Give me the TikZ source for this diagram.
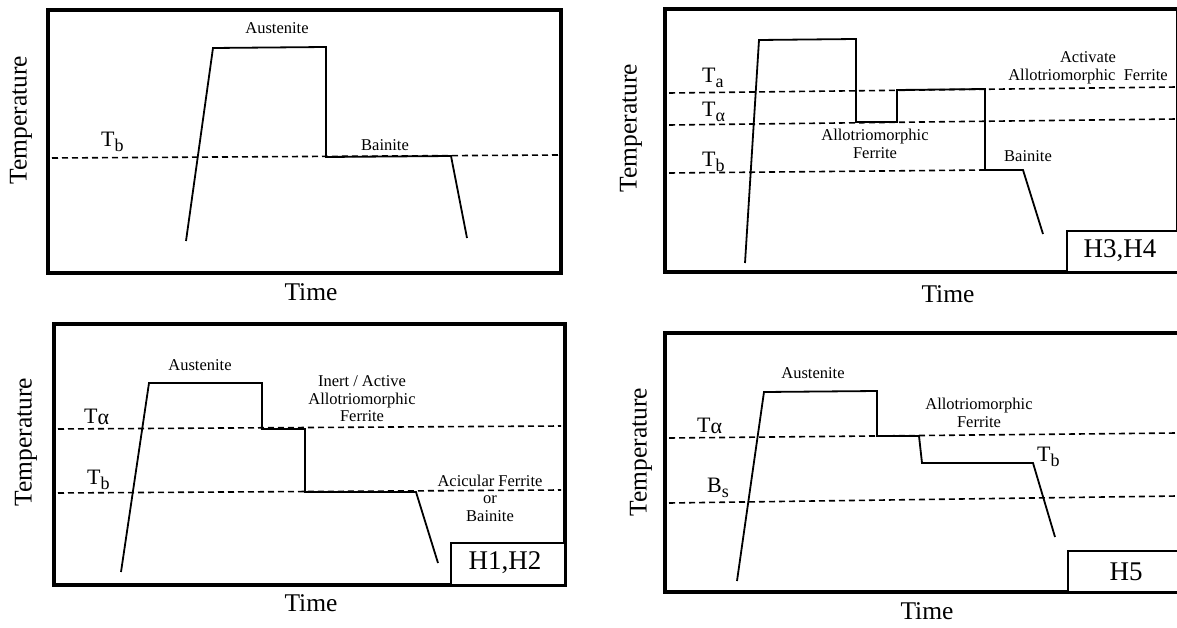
\documentclass[tikz,border=0pt]{standalone}
\usepackage{fontspec}
\setmainfont{Liberation Serif}
% temperature level label: letter with a lowered subscript
\newcommand\lvl[2]{#1\raisebox{-5pt}{\fontsize{18}{18}\selectfont #2}}
% level label whose second letter sits almost on the baseline
\newcommand\lvlin[2]{#1\raisebox{-1.5pt}{#2}}
\tikzset{
  panel/.style={line width=4.5pt},
  profile/.style={line width=1.8pt, line join=miter},
  level/.style={line width=1.6pt, dash pattern=on 6pt off 4pt},
  tag/.style={line width=2pt, fill=white},
  phase/.style={font=\fontsize{16.5}{17.5}\selectfont, align=center, inner sep=0pt},
  axislab/.style={font=\fontsize{25.5}{27}\selectfont, inner sep=0pt},
  tlab/.style={font=\fontsize{22}{22}\selectfont, inner sep=0pt, anchor=base west},
  idlab/.style={font=\fontsize{27}{27}\selectfont, inner sep=0pt}
}
\begin{document}
\begin{tikzpicture}[x=1pt,y=-1pt]
\useasboundingbox (0,0) rectangle (1177,628);
\clip (0,0) rectangle (1177,628);

% ---------------- top left: isothermal bainite ----------------
\draw[panel] (48,10) rectangle (561,273);
\draw[level] (52,158) -- (558,155);
\draw[profile] (186,241) -- (213,48) -- (326,47) -- (326,157) -- (451,156) -- (467,238);
\node[axislab, rotate=90] (p1temp) at (21,120) {Temperature};
\node[axislab] (p1time) at (311,292) {Time};
\node[phase] (p1aus) at (277,28) {Austenite};
\node[phase] (p1bai) at (385,145) {Bainite};
\node[tlab] (p1tb) at (101,147) {\lvl{T}{b}};

% ---------------- top right: H3, H4 ----------------
\draw[panel] (665,9) rectangle (1178,272);
\draw[level] (669,93) -- (1177,87);
\draw[level] (669,125) -- (1177,119);
\draw[level] (669,173) -- (985,170);
\draw[profile] (745,263) -- (759,40) -- (856,39) -- (856,122) -- (897,122)
  -- (897,90) -- (985,89) -- (985,170) -- (1023,170) -- (1043,234);
\draw[tag] (1067,231) rectangle (1190,272);
\node[idlab] (p2id) at (1120,251) {H3,H4};
\node[axislab, rotate=90] (p2temp) at (631,128) {Temperature};
\node[axislab] (p2time) at (948,294) {Time};
\node[tlab] (p2ta) at (702,83) {\lvl{T}{a}};
\node[tlab] (p2tal) at (702,117) {\lvl{T}{α}};
\node[tlab] (p2tb) at (702,167) {\lvl{T}{b}};
\node[phase] (p2allo) at (875,144) {Allotriomorphic\\Ferrite};
\node[phase] (p2act) at (1088,68) {Activate\\Allotriomorphic\ \ Ferrite};
\node[phase] (p2bai) at (1028,156) {Bainite};

% ---------------- bottom left: H1, H2 ----------------
\draw[panel] (54,324) rectangle (565,585);
\draw[level] (58,429) -- (561,426);
\draw[level] (58,493) -- (561,490);
\draw[profile] (121,572) -- (149,383) -- (262,383) -- (262,429) -- (305,429)
  -- (305,492) -- (416,492) -- (438,563);
\draw[tag] (451,543) rectangle (565,585);
\node[idlab] (p3id) at (505,563) {H1,H2};
\node[axislab, rotate=90] (p3temp) at (26,442) {Temperature};
\node[axislab] (p3time) at (311,603) {Time};
\node[tlab] (p3tal) at (84,423) {\lvlin{T}{α}};
\node[tlab] (p3tb) at (87,484) {\lvl{T}{b}};
\node[phase] (p3aus) at (200,365) {Austenite};
\node[phase] (p3allo) at (362,399) {Inert / Active\\Allotriomorphic\\Ferrite};
\node[phase] (p3aci) at (490,498) {Acicular Ferrite\\or\\Bainite};

% ---------------- bottom right: H5 ----------------
\draw[panel] (665,333) rectangle (1190,592);
\draw[level] (669,438) -- (1177,433);
\draw[level] (669,503) -- (1177,496);
\draw[profile] (737,581) -- (764,392) -- (877,391) -- (877,436) -- (919,436)
  -- (922,463) -- (1033,463) -- (1055,537);
\draw[tag] (1068,551) rectangle (1190,592);
\node[idlab] (p4id) at (1126,572) {H5};
\node[axislab, rotate=90] (p4temp) at (641,452) {Temperature};
\node[axislab] (p4time) at (927,611) {Time};
\node[tlab] (p4tal) at (697,432) {\lvlin{T}{α}};
\node[tlab] (p4bs) at (707,492) {\lvl{B}{s}};
\node[tlab] (p4tb) at (1037,461) {\lvl{T}{b}};
\node[phase] (p4aus) at (813,373) {Austenite};
\node[phase] (p4allo) at (979,413) {Allotriomorphic\\Ferrite};
\end{tikzpicture}
\end{document}
